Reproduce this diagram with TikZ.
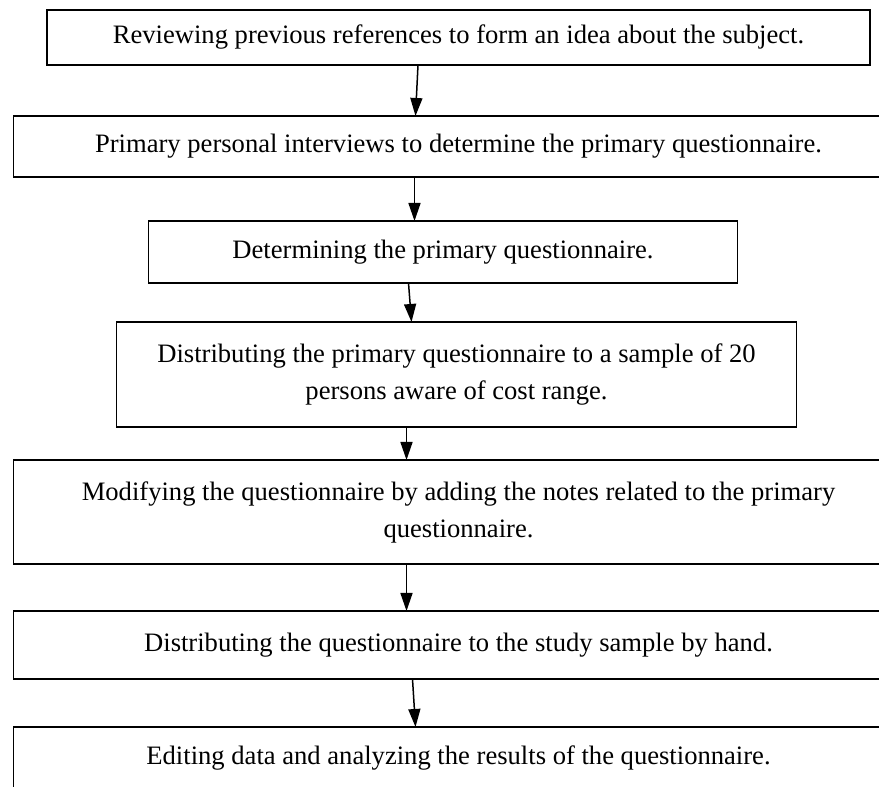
\documentclass[tikz,border=0pt]{standalone}
\usepackage{fontspec}
\setmainfont{Liberation Serif}
\usetikzlibrary{positioning,arrows.meta}

\begin{document}
\begin{tikzpicture}[stage/.style={rectangle, draw, line width=0.75pt, inner sep=0pt, outer sep=0pt, align=center, font=\fontsize{13.3}{18.5}\selectfont},
    flow/.style={-{Triangle[length=9pt,width=6pt]}, line width=0.75pt}]
                \useasboundingbox (0,0) rectangle (439.5pt,393.5pt);
                \node (review) [stage, minimum width=411.5pt, minimum height=27.5pt] at (229.25pt,374.75pt) {Reviewing previous references to form an idea about the subject.};
                \node (interview) [stage, minimum width=445pt, minimum height=30.5pt, below=25.5pt of review] {Primary personal interviews to determine the primary questionnaire.};
                \node (determine) [stage, minimum width=294.5pt, minimum height=31pt, below=22pt of interview, xshift=-7.75pt] {Determining the primary questionnaire.};
                \node (pilot) [stage, minimum width=340pt, minimum height=52.5pt, below=19.5pt of determine, xshift=6.75pt] {Distributing the primary questionnaire to a sample of 20\\persons aware of cost range.};
                \node (modify) [stage, minimum width=445pt, minimum height=52pt, below=16.5pt of pilot, xshift=1pt] {Modifying the questionnaire by adding the notes related to the primary\\questionnaire.};
                \node (handout) [stage, minimum width=445pt, minimum height=34pt, below=23.5pt of modify] {Distributing the questionnaire to the study sample by hand.};
                \node (analyse) [stage, minimum width=445pt, minimum height=31pt, below=24pt of handout] {Editing data and analyzing the results of the questionnaire.};

			\draw[flow] ([xshift=-20.25pt]review.south) -- ([xshift=-21.5pt]interview.north);
			\draw[flow] ([xshift=-22pt]interview.south) -- ([xshift=-14.25pt]determine.north);
                \draw[flow] ([xshift=-17.25pt]determine.south) -- ([xshift=-22.5pt]pilot.north);
                \draw[flow] ([xshift=-25pt]pilot.south) -- ([xshift=-26pt]modify.north);
                \draw[flow] ([xshift=-26pt]modify.south) -- ([xshift=-26pt]handout.north);
                \draw[flow] ([xshift=-23pt]handout.south) -- ([xshift=-21.5pt]analyse.north);
	\end{tikzpicture}
\end{document}
